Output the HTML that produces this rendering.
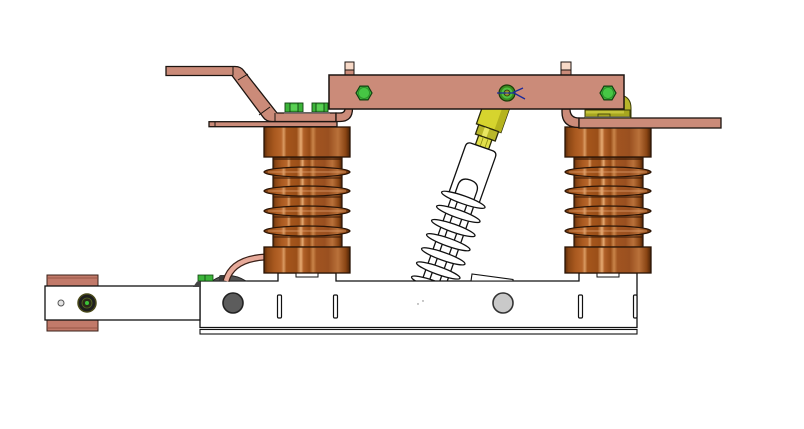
<!DOCTYPE html>
<html><head><meta charset="utf-8"><style>html,body{margin:0;padding:0;background:#fff;}svg{display:block}</style></head>
<body>
<svg width="804" height="429" viewBox="0 0 804 429" xmlns="http://www.w3.org/2000/svg">
<defs>
<linearGradient id="cu" x1="0" y1="0" x2="1" y2="0">
 <stop offset="0" stop-color="#5a2a08"/>
 <stop offset="0.04" stop-color="#8a4614"/>
 <stop offset="0.12" stop-color="#a9591f"/>
 <stop offset="0.2" stop-color="#b7662b"/>
 <stop offset="0.23" stop-color="#d99a62"/>
 <stop offset="0.26" stop-color="#a5561c"/>
 <stop offset="0.38" stop-color="#9b4f18"/>
 <stop offset="0.43" stop-color="#e6aa72"/>
 <stop offset="0.46" stop-color="#b06028"/>
 <stop offset="0.53" stop-color="#984c17"/>
 <stop offset="0.57" stop-color="#c9854a"/>
 <stop offset="0.61" stop-color="#a15421"/>
 <stop offset="0.75" stop-color="#9a5020"/>
 <stop offset="0.86" stop-color="#b9713a"/>
 <stop offset="0.95" stop-color="#8a4514"/>
 <stop offset="1" stop-color="#4a2206"/>
</linearGradient>
<g id="ins">
 <rect x="32" y="146" width="22" height="4" fill="#fff" stroke="#111" stroke-width="1"/>
 <rect x="9" y="30" width="69" height="90" fill="url(#cu)" stroke="#2a1406" stroke-width="1.2"/>
 <rect x="9" y="30" width="69" height="3" fill="#3a1a06" opacity="0.6"/>
 <rect x="9" y="50" width="69" height="2" fill="#3a1a06" opacity="0.5"/>
 <rect x="9" y="69" width="69" height="2" fill="#3a1a06" opacity="0.5"/>
 <rect x="9" y="89" width="69" height="2" fill="#3a1a06" opacity="0.5"/>
 <rect x="9" y="109" width="69" height="2" fill="#3a1a06" opacity="0.5"/>
 <rect x="0" y="0" width="86" height="30" fill="url(#cu)" stroke="#2a1406" stroke-width="1.3"/>
 <ellipse cx="43" cy="45" rx="43" ry="5" fill="url(#cu)" stroke="#2a1406" stroke-width="1.2"/>
 <line x1="4" y1="45" x2="82" y2="45" stroke="#e0a070" stroke-width="0.8"/>
 <ellipse cx="43" cy="64" rx="43" ry="5" fill="url(#cu)" stroke="#2a1406" stroke-width="1.2"/>
 <line x1="4" y1="64" x2="82" y2="64" stroke="#e0a070" stroke-width="0.8"/>
 <ellipse cx="43" cy="84" rx="43" ry="5" fill="url(#cu)" stroke="#2a1406" stroke-width="1.2"/>
 <line x1="4" y1="84" x2="82" y2="84" stroke="#e0a070" stroke-width="0.8"/>
 <ellipse cx="43" cy="104" rx="43" ry="5" fill="url(#cu)" stroke="#2a1406" stroke-width="1.2"/>
 <line x1="4" y1="104" x2="82" y2="104" stroke="#e0a070" stroke-width="0.8"/>
 <rect x="0" y="120" width="86" height="26" fill="url(#cu)" stroke="#2a1406" stroke-width="1.3"/>
</g>
</defs>

<!-- inclined insulator (behind) -->
<g transform="translate(482,147) rotate(19.5)" stroke="#111" stroke-width="1.3">
 <rect x="-13" y="-58" width="26" height="38" fill="#d6d42e" stroke="#2a2a0a"/>
 <rect x="6" y="-58" width="7" height="38" fill="#b5b31e" stroke="none"/>
 <rect x="-10.5" y="-20" width="21" height="10" fill="#b9b72a" stroke="#2a2a0a"/>
 <rect x="-4" y="-19.5" width="5" height="9" fill="#e8e660" stroke="none"/>
 <rect x="-7" y="-10" width="14" height="10" fill="#e2e04a" stroke="#2a2a0a"/>
 <line x1="-2" y1="-10" x2="-2" y2="0" stroke="#8a8a10" stroke-width="0.8"/>
 <line x1="3" y1="-10" x2="3" y2="0" stroke="#8a8a10" stroke-width="0.8"/>
 <path d="M-16,55 V5 Q-16,0 -11,0 H11 Q16,0 16,5 V55 Z" fill="#fff"/>
 <path d="M-10,55 V44 Q-10,35 0,35 Q10,35 10,44 V55" fill="#fff"/>
 <line x1="-12" y1="55" x2="-12" y2="185"/>
 <line x1="12" y1="55" x2="12" y2="185"/>
 <line x1="-5" y1="55" x2="-5" y2="185"/>
 <line x1="5" y1="55" x2="5" y2="185"/>
 <ellipse cx="0" cy="56" rx="23" ry="4" fill="#fff"/>
 <ellipse cx="0" cy="71" rx="23" ry="4" fill="#fff"/>
 <ellipse cx="0" cy="86" rx="23" ry="4" fill="#fff"/>
 <ellipse cx="0" cy="101" rx="23" ry="4" fill="#fff"/>
 <ellipse cx="0" cy="116" rx="23" ry="4" fill="#fff"/>
 <ellipse cx="0" cy="131" rx="23" ry="4" fill="#fff"/>
 <ellipse cx="0" cy="146" rx="23" ry="4" fill="#fff"/>
 <ellipse cx="0" cy="161" rx="23" ry="4" fill="#fff"/>
</g>

<!-- base -->
<path d="M200,281 H278 V273 H336 V281 H579 V273 H637 V327.5 H200 Z" fill="#fff" stroke="#111" stroke-width="1.3"/>
<rect x="200" y="329.5" width="437" height="4.5" fill="#fff" stroke="#111" stroke-width="1.1"/>
<polygon points="471,281 472,274 513,279.5 513,281" fill="#fff" stroke="#111" stroke-width="1.1"/>
<g fill="#fff" stroke="#111" stroke-width="1.2">
 <rect x="277.5" y="295" width="4" height="23" rx="1.2"/>
 <rect x="333.5" y="295" width="4" height="23" rx="1.2"/>
 <rect x="578.5" y="295" width="4" height="23" rx="1.2"/>
 <rect x="633.5" y="295" width="3.5" height="23" rx="1.2"/>
</g>
<circle cx="233" cy="303" r="10" fill="#5c5c5c" stroke="#222" stroke-width="1.6"/>
<circle cx="503" cy="303" r="10" fill="#c9c9c9" stroke="#333" stroke-width="1.6"/>
<circle cx="418" cy="304" r="0.7" fill="#777"/>
<circle cx="423" cy="301" r="0.7" fill="#777"/>

<!-- left arm -->
<rect x="47" y="275" width="51" height="11" fill="#c27a6a" stroke="#3a2018" stroke-width="1"/>
<line x1="47" y1="278" x2="98" y2="278" stroke="#8a4a3a" stroke-width="0.8"/>
<rect x="47" y="320" width="51" height="11" fill="#c27a6a" stroke="#3a2018" stroke-width="1"/>
<line x1="47" y1="328" x2="98" y2="328" stroke="#8a4a3a" stroke-width="0.8"/>
<rect x="45" y="286" width="155" height="34" fill="#fff" stroke="#111" stroke-width="1.3"/>
<circle cx="61" cy="303" r="3" fill="#e4e4e4" stroke="#555" stroke-width="1"/>
<circle cx="87" cy="303" r="9" fill="#1e1e1e" stroke="#4a4a1a" stroke-width="1.5"/>
<circle cx="87" cy="303" r="5" fill="#2a2a18" stroke="#556622" stroke-width="0.8"/>
<circle cx="87" cy="303" r="2" fill="#3cc43a"/>

<!-- cable & small parts -->
<path d="M193,287 L197,281.5 H201 V287 Z" fill="#444"/>
<path d="M212,281 Q228,270 246,281 Z" fill="#555" stroke="#222" stroke-width="1"/>
<rect x="219" y="275" width="8" height="6" rx="2" fill="#3a3a3a"/>
<rect x="198" y="275" width="15" height="6" fill="#3cb43a" stroke="#104010" stroke-width="0.8"/>
<line x1="205" y1="275" x2="205" y2="281" stroke="#104010" stroke-width="0.8"/>
<path d="M226,281 Q232,259 265,257" fill="none" stroke="#3a2018" stroke-width="7"/>
<path d="M226,281 Q232,259 265,257" fill="none" stroke="#e7aa9a" stroke-width="4.5"/>

<!-- insulators -->
<use href="#ins" transform="translate(264,127)"/>
<use href="#ins" transform="translate(565,127)"/>

<!-- busbars -->
<g fill="#cb8b79" stroke="#1c1410" stroke-width="1.3">
 <path d="M166,66.5 H235 Q241,66.5 244,71 L277,113 H336 V121.5 H272 Q266,121.5 263,117 L232,75.5 H166 Z"/>
 <path d="M336,113 H340 Q345,113 345,108.5 H352.5 Q352.5,121.5 340,121.5 H336 Z"/>
 <rect x="209" y="121.7" width="128" height="5"/>
 <path d="M562,109 H570 Q570,118 579,118 V127.5 Q562,127.5 562,112 Z"/>
 <rect x="579" y="118" width="142" height="10"/>
</g>
<g stroke="#1c1410" stroke-width="1">
 <line x1="233" y1="66.5" x2="233" y2="75.5"/>
 <line x1="238" y1="80" x2="248" y2="74"/>
 <line x1="259" y1="115" x2="270" y2="107"/>
 <line x1="275" y1="113" x2="275" y2="121.5"/>
 <line x1="215" y1="121.7" x2="215" y2="126.7"/>
</g>

<!-- small green bolts on left plate -->
<g stroke="#104010" stroke-width="0.9">
 <rect x="285" y="103" width="18" height="9" fill="#3cb43a"/>
 <rect x="290" y="104.5" width="8" height="6" fill="#5ad054" stroke="none"/>
 <line x1="290" y1="103" x2="290" y2="112"/>
 <line x1="298" y1="103" x2="298" y2="112"/>
 <rect x="312" y="103" width="16" height="9" fill="#3cb43a"/>
 <rect x="316" y="104.5" width="8" height="6" fill="#5ad054" stroke="none"/>
 <line x1="316" y1="103" x2="316" y2="112"/>
 <line x1="324" y1="103" x2="324" y2="112"/>
</g>
<rect x="284" y="112" width="46" height="1.5" fill="#666"/>

<!-- olive bracket right -->
<path d="M624,96 Q631,99 631,108 V118 H624 Z" fill="#b7b52b" stroke="#3a3a05" stroke-width="1"/>
<rect x="585" y="110" width="45" height="8" fill="#a7a61f" stroke="#3a3a05" stroke-width="1"/>
<rect x="586" y="110.5" width="38" height="3" fill="#c6c43a"/>
<rect x="598" y="114" width="12" height="3" fill="none" stroke="#3a3a05" stroke-width="0.8"/>
<rect x="585" y="116.5" width="45" height="1.5" fill="#555"/>

<!-- top bar -->
<rect x="345" y="62" width="9" height="13" fill="#cb8b79" stroke="#1c1410" stroke-width="1"/>
<rect x="345" y="62" width="9" height="8" fill="#f7d9c7" stroke="#1c1410" stroke-width="1"/>
<rect x="561" y="62" width="10" height="13" fill="#cb8b79" stroke="#1c1410" stroke-width="1"/>
<rect x="561" y="62" width="10" height="8" fill="#f7d9c7" stroke="#1c1410" stroke-width="1"/>
<rect x="329" y="75" width="295" height="34" fill="#cb8b79" stroke="#1c1410" stroke-width="1.5"/>

<!-- nuts -->
<g stroke="#104010" stroke-width="1.2">
 <polygon points="372,93 368,99.9 360,99.9 356,93 360,86.1 368,86.1" fill="#3cb43a"/>
 <circle cx="364" cy="93" r="5.5" fill="#46c644" stroke="#2a8a28" stroke-width="0.8"/>
 <polygon points="616,93 612,99.9 604,99.9 600,93 604,86.1 612,86.1" fill="#3cb43a"/>
 <circle cx="608" cy="93" r="5.5" fill="#46c644" stroke="#2a8a28" stroke-width="0.8"/>
</g>
<circle cx="507" cy="93" r="8" fill="#3a8a20" stroke="#1a3a08" stroke-width="1.2"/>
<circle cx="507" cy="93" r="5.5" fill="#50c040"/>
<circle cx="507" cy="93" r="3" fill="#909020" stroke="#303010" stroke-width="0.8"/>
<circle cx="507" cy="93" r="1.3" fill="#c8c850"/>
<path d="M497,93 H513 M513,92.5 L523,88 M513,92.5 L525,99" fill="none" stroke="#1a2a9a" stroke-width="1.3"/>
</svg>
</body></html>
